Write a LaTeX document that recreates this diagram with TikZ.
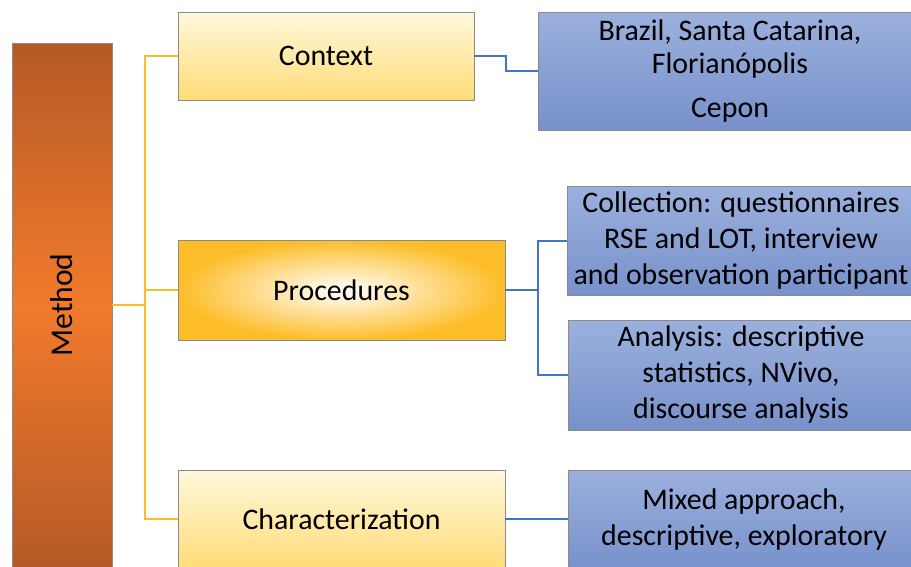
\documentclass[tikz,border=0pt]{standalone}
\usepackage{fontspec}
\setmainfont{Carlito}
\usepackage{xcolor}
\usepackage{tikz}
\usetikzlibrary{positioning}
\definecolor{methdark}{HTML}{B45A26}
\definecolor{methlight}{HTML}{F27A2C}
\definecolor{ylight}{HTML}{FFF8DC}
\definecolor{ydark}{HTML}{FFDC78}
\definecolor{pdark}{HTML}{FDBD28}
\definecolor{blight}{HTML}{9BB0DD}
\definecolor{bdark}{HTML}{7891CB}
\definecolor{edge}{HTML}{8A8A8A}
\definecolor{oline}{HTML}{FDBB2C}
\definecolor{bline}{HTML}{4472C4}
\tikzstyle{method}  = [rectangle, draw=edge, top color=methdark, bottom color=methdark, middle color=methlight, minimum width=2cm, minimum height=10.48cm, align=center]
\tikzstyle{topic}   = [rectangle, draw=edge, top color=ylight, bottom color=ydark, minimum width=6.54cm, minimum height=2cm, align=center]
\tikzstyle{topicr}  = [rectangle, draw=edge, inner color=white, outer color=pdark, minimum width=6.54cm, minimum height=2cm, align=center]
\tikzstyle{detail}  = [rectangle, draw=edge, top color=blight, bottom color=bdark, minimum width=6.92cm, minimum height=2.2cm, align=center]
\tikzstyle{obranch} = [oline, line width=1.2pt]
\tikzstyle{bbranch} = [bline, line width=1.2pt]

\begin{document}
\begin{tikzpicture}[x=0.02cm, y=-0.02cm, font=\fontsize{17}{20.5}\selectfont]
    \useasboundingbox (0,0) rectangle (911,566);
    \clip (0,0) rectangle (911,566);

    \node (meth) [method] at (62,305) {\rotatebox{90}{\fontsize{18}{20}\selectfont Method}};
    \node (ctx) [topic, minimum width=5.92cm, minimum height=1.76cm] at (326,56) {Context};
    \node (proc) [topicr] at (341.5,290) {Procedures};
    \node (char) [topic, minimum height=1.96cm] at (341.5,519) {Characterization};

    \node (place) [detail, minimum width=7.68cm, minimum height=2.36cm, font=\fontsize{17}{19}\selectfont] at (730,71) {Brazil, Santa Catarina,\\ Florianópolis\\[6pt] Cepon};
    \node (coll) [detail, minimum height=2.16cm] at (741,241) {Collection: questionnaires\\ RSE and LOT, interview\\ and observation participant};
    \node (anal) [detail] at (741,375) {Analysis: descriptive\\ statistics, NVivo,\\ discourse analysis};
    \node (mix) [detail, minimum width=7.04cm, minimum height=2cm] at (744,520) {Mixed approach,\\ descriptive, exploratory};

    \coordinate (obus) at (145,305);
    \coordinate (bbus) at (538,290);

    \draw [obranch] (meth.east) -- (obus);
    \draw [obranch] (obus) |- (ctx.west);
    \draw [obranch] (obus) |- (proc.west);
    \draw [obranch] (obus) |- (char.west);

    \draw [bbranch] (ctx.east) -- ++(32,0) |- (place.west);
    \draw [bbranch] (proc.east) -- (bbus);
    \draw [bbranch] (bbus) |- (coll.west);
    \draw [bbranch] (bbus) |- (anal.west);
    \draw [bbranch] (char.east) -- (char.east -| mix.west);
  \end{tikzpicture}
\end{document}
